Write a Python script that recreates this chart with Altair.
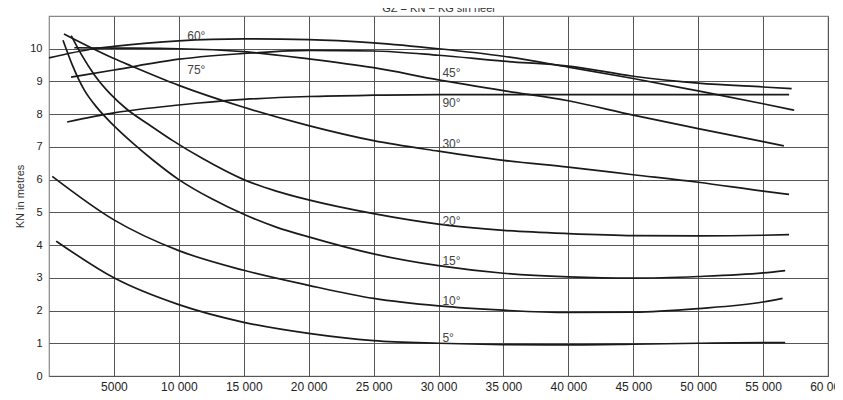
import altair as alt
import pandas as pd

# ---- data (displacement in tonnes, KN in metres) ----
x_5 = [560, 5000, 10000, 15000, 20000, 25000, 30000, 35000, 40000, 45000, 50000, 55000, 56700]
y_5 = [4.12, 3.0, 2.18, 1.64, 1.3, 1.08, 1.0, 0.96, 0.95, 0.97, 1.0, 1.02, 1.02]

x_10 = [250, 5000, 10000, 15000, 20000, 25000, 30000, 35000, 40000, 45000, 50000, 55000, 56500]
y_10 = [6.1, 4.77, 3.83, 3.23, 2.77, 2.37, 2.14, 2.01, 1.94, 1.95, 2.06, 2.26, 2.37]

x_15 = [1080, 1800, 2700, 3700, 4820, 6500, 8000, 10000, 12500, 15000, 17500, 20000,
        25000, 30000, 35000, 40000, 45000, 50000, 55000, 56700]
y_15 = [10.26, 9.5, 8.75, 8.2, 7.72, 7.1, 6.6, 6.0, 5.42, 4.94, 4.55, 4.25,
        3.73, 3.37, 3.14, 3.03, 2.99, 3.04, 3.15, 3.22]

x_20 = [1710, 2500, 3500, 4720, 6000, 7740, 9500, 11800, 15000, 17500, 20000, 25000,
        30000, 35000, 40000, 45000, 50000, 55000, 57000]
y_20 = [10.4, 9.82, 9.2, 8.62, 8.15, 7.67, 7.2, 6.65, 6.0, 5.65, 5.38, 4.96,
        4.64, 4.45, 4.35, 4.29, 4.28, 4.3, 4.32]

x_30 = [1150, 5000, 6300, 10000, 15000, 20000, 25000, 30000, 35000, 40000, 45000, 50000, 55000, 57000]
y_30 = [10.45, 9.7, 9.48, 8.88, 8.21, 7.65, 7.19, 6.87, 6.59, 6.38, 6.15, 5.92, 5.65, 5.55]

x_45 = [1950, 5000, 10000, 15000, 20000, 25000, 30000, 35000, 40000, 45000, 50000, 55000, 56600]
y_45 = [10.03, 10.02, 10.0, 9.91, 9.69, 9.42, 9.05, 8.72, 8.41, 7.97, 7.56, 7.16, 7.03]

x_60 = [0, 3500, 5000, 10000, 15000, 20000, 25000, 30000, 35000, 40000, 45000, 50000, 55000, 57400]
y_60 = [9.72, 10.0, 10.07, 10.24, 10.3, 10.28, 10.18, 10.0, 9.77, 9.44, 9.09, 8.71, 8.32, 8.12]

x_75 = [1700, 5000, 10000, 15600, 20000, 25000, 30000, 35000, 40000, 45000, 50000, 55000, 57200]
y_75 = [9.13, 9.35, 9.68, 9.87, 9.95, 9.93, 9.8, 9.62, 9.47, 9.16, 8.95, 8.83, 8.78]

x_90 = [1400, 5000, 10000, 15000, 20000, 25000, 30000, 40000, 50000, 57000]
y_90 = [7.76, 8.04, 8.28, 8.45, 8.54, 8.58, 8.6, 8.6, 8.6, 8.6]

curve_names = ["5°", "10°", "15°", "20°", "30°", "45°", "60°", "75°", "90°"]
curve_x = [x_5, x_10, x_15, x_20, x_30, x_45, x_60, x_75, x_90]
curve_y = [y_5, y_10, y_15, y_20, y_30, y_45, y_60, y_75, y_90]

label_text = ["60°", "75°", "45°", "90°", "30°", "20°", "15°", "10°", "5°"]
label_x = [10650, 10650, 30300, 30300, 30300, 30300, 30300, 30300, 30300]
label_y = [10.4, 9.34, 9.25, 8.33, 7.08, 4.75, 3.52, 2.29, 1.16]

x_ticks = [5000, 10000, 15000, 20000, 25000, 30000, 35000, 40000, 45000, 50000, 55000, 60000]
x_tick_labels = ["5000", "10 000", "15 000", "20 000", "25 000", "30 000", "35 000",
                 "40 000", "45 000", "50 000", "55 000", "60 000"]
y_ticks = [0, 1, 2, 3, 4, 5, 6, 7, 8, 9, 10]

title_text = "GZ = KN \u2212 KG sin heel"
y_title = "KN in metres"

# ---- build tables ----
rows = []
for name, xs, ys in zip(curve_names, curve_x, curve_y):
    for i, (xv, yv) in enumerate(zip(xs, ys)):
        rows.append({"angle": name, "x": xv, "y": yv, "i": i})
df = pd.DataFrame(rows)
lab_df = pd.DataFrame({"t": label_text, "x": label_x, "y": label_y})

label_expr = "''"
for v, lab in reversed(list(zip(x_ticks, x_tick_labels))):
    label_expr = f"datum.value == {v} ? '{lab}' : ({label_expr})"

x_scale = alt.Scale(domain=[0, 60000], nice=False, zero=False)
y_scale = alt.Scale(domain=[0, 11], nice=False, zero=False)

x_axis = alt.Axis(values=x_ticks, labelExpr=label_expr, grid=True, gridColor="#555",
                  gridWidth=1, ticks=False, tickSize=0, domain=False, labelFontSize=12,
                  labelColor="#222", labelPadding=5, labelFlush=False, labelOverlap=False,
                  title=None)
y_axis = alt.Axis(values=y_ticks, tickCount=11, grid=True, gridColor="#555", gridWidth=1,
                  ticks=False, tickSize=0, domain=False, labelFontSize=11, labelColor="#222",
                  labelPadding=7, labelOverlap=False, labelFlush=False,
                  title=y_title, titleX=-29, titleY=180, titleAngle=270,
                  titleAlign="center", titleBaseline="middle", titleFontSize=11,
                  titleFontWeight="normal", titleColor="#333")

lines = alt.Chart(df).mark_line(color="#1a1a1a", strokeWidth=1.7, interpolate="monotone").encode(
    x=alt.X("x:Q", scale=x_scale, axis=x_axis),
    y=alt.Y("y:Q", scale=y_scale, axis=y_axis),
    detail="angle:N",
    order="i:Q",
)

labels = alt.Chart(lab_df).mark_text(align="left", baseline="middle", fontSize=12,
                                     color="#444").encode(
    x=alt.X("x:Q", scale=x_scale, axis=x_axis),
    y=alt.Y("y:Q", scale=y_scale, axis=y_axis),
    text="t:N",
)

chart = alt.layer(lines, labels).properties(
    width=779,
    height=360,
    autosize=alt.AutoSizeParams(type="none"),
    padding={"left": 41, "top": 8, "right": 7, "bottom": 20},
    title=alt.TitleParams(title_text, fontSize=11, fontWeight="normal", color="#333",
                          anchor="middle", offset=2),
).configure(
    font="Liberation Sans",
).configure_view(
    stroke="#888", strokeWidth=1.2,
)

chart.save("out.html", embed_options={"renderer": "svg", "actions": False})
